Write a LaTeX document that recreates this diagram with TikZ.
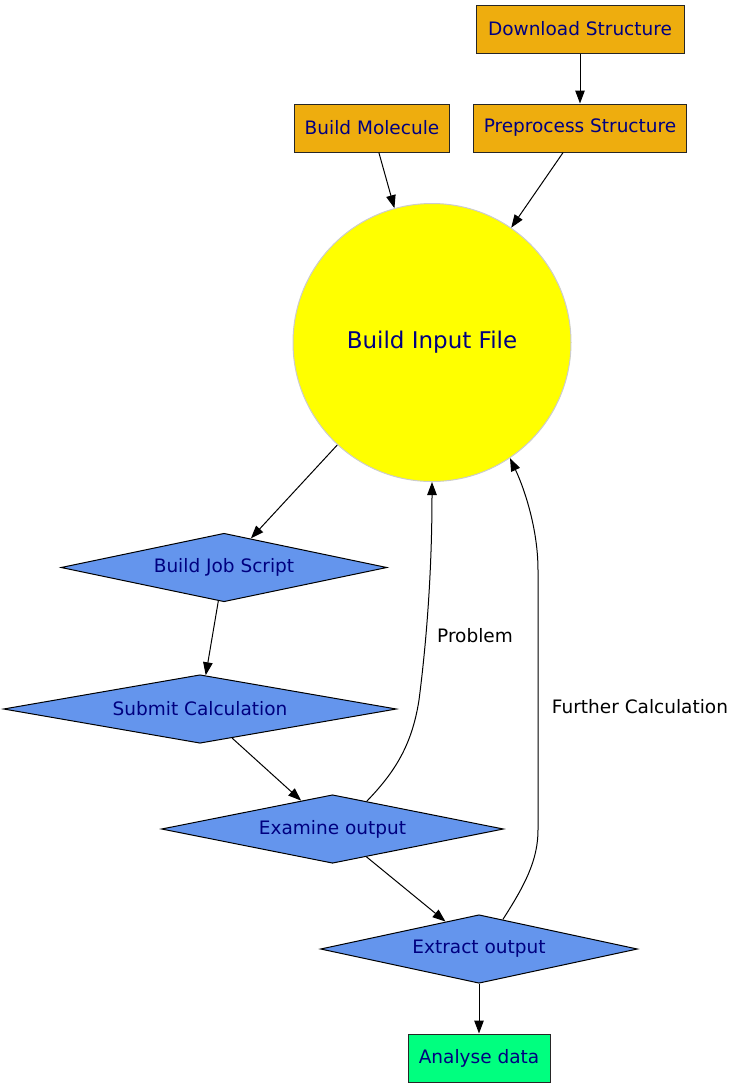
\documentclass[tikz,border=0pt]{standalone}
\usepackage{fontspec}
\setmainfont{DejaVu Sans}
\usetikzlibrary{shapes.geometric,arrows.meta,calc}
\definecolor{boxgold}{HTML}{EEAD0E}
\definecolor{diablue}{HTML}{6495ED}
\definecolor{datagreen}{HTML}{00FF7F}
\definecolor{inpyellow}{HTML}{FFFF00}
\definecolor{txtnavy}{HTML}{000080}
\definecolor{rimgray}{HTML}{CCCCCC}

\begin{document}
\begin{tikzpicture}[x=1pt,y=-1pt,>={Triangle[length=13pt,width=9.5pt]},line width=1pt,
  every node/.style={font=\fontsize{18.5}{22}\selectfont},
  box/.style={draw=black!85,fill=boxgold,text=txtnavy,minimum height=48pt,inner sep=0pt},
  dia/.style={diamond,draw=black,fill=diablue,text=txtnavy,minimum height=68.5pt,inner sep=0pt,aspect=5}]
\useasboundingbox (0,0) rectangle (733,1088);
\node[box,minimum width=208pt] (dl) at (580,29) {Download Structure};
\node[box,minimum width=155pt] (mol) at (372,128) {Build Molecule};
\node[box,minimum width=213pt] (prep) at (580,128) {Preprocess Structure};
\node[circle,draw=rimgray,fill=inpyellow,text=txtnavy,minimum size=278pt,inner sep=0pt,
  font=\fontsize{23}{27}\selectfont] (inp) at (432,342.5) {Build Input File};
\node[dia,minimum width=326pt] (job) at (224,567.5) {Build Job Script};
\node[dia,minimum width=393pt] (sub) at (200,709) {Submit Calculation};
\node[dia,minimum width=342pt] (exam) at (332.5,829) {Examine output};
\node[dia,minimum width=317pt] (extr) at (479,949) {Extract output};
\node[box,fill=datagreen,minimum width=142pt] (anal) at (479,1058) {Analyse data};

\draw[->] (dl) -- (prep);
\draw[->] (mol) -- (inp);
\draw[->] (prep) -- (inp);
\draw[->] (inp) -- (job);
\draw[->] (job) -- (sub);
\draw[->] (sub) -- (exam);
\draw[->] (exam) -- (extr);
\draw[->] (extr) -- (anal);
% loops back to the input file
\draw[->] ($(exam.north)!0.2!(exam.east)$) .. controls (395,772) and (412,745) .. (419,700)
  .. controls (428,630) and (432,560) .. (inp.south);
\draw[->] ($(extr.north)!0.15!(extr.east)$) .. controls (525,885) and (538,860) .. (538,830)
  -- (538,570) .. controls (538,530) and (525,490) .. (inp.-56);
\node (pb) at (475,636) {Problem};
\node (fc) at (640,707) {Further Calculation};
\end{tikzpicture}
\end{document}
